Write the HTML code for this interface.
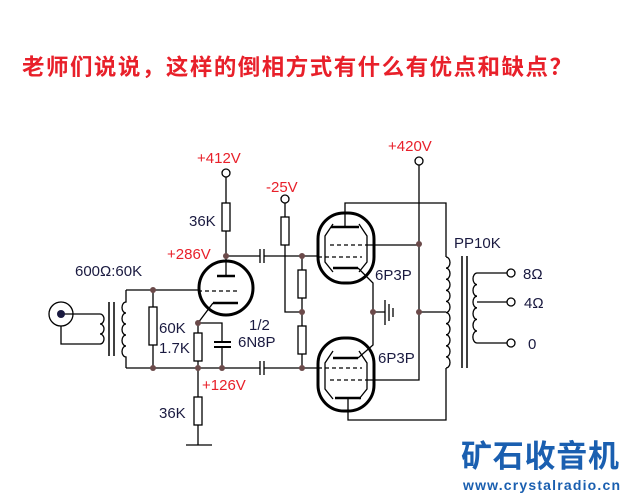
<!DOCTYPE html>
<html><head><meta charset="utf-8"><style>
html,body{margin:0;padding:0;background:#fff;width:629px;height:496px;overflow:hidden}
svg{display:block}
</style></head><body>
<svg width="629" height="496" viewBox="0 0 629 496" xmlns="http://www.w3.org/2000/svg">
<rect width="629" height="496" fill="#fff"/>
<text x="22" y="75" font-family="'Noto Sans CJK SC','WenQuanYi Zen Hei',sans-serif" font-size="22.5" font-weight="bold" fill="#e8202a" textLength="550">老师们说说，这样的倒相方式有什么有优点和缺点？</text>

<g stroke="#000" stroke-width="1.3" fill="none">
<circle cx="61" cy="314" r="12"/>
<path d="M61 314 H100 M61 326 V344 H100"/>
<path d="M100 314 a4 5 0 0 1 0 10 a4 5 0 0 1 0 10 a4 5 0 0 1 0 10"/>
<path d="M109 302 V356 M114 302 V356" stroke-width="1.5"/>
<path d="M126 290 V302 a4 5.5 0 0 0 0 11 a4 5.5 0 0 0 0 11 a4 5.5 0 0 0 0 11 a4 5.5 0 0 0 0 11 a4 5.5 0 0 0 0 11 V368"/>
<path d="M126 290 H198 M126 368 H260 M264 368 H318"/>
<path d="M153 290 V307 M153 345 V368"/><rect x="149" y="307" width="8" height="38"/>
<circle cx="226" cy="288" r="27" stroke-width="3"/>
<path d="M217 276 H235" stroke-width="2.5"/>
<path d="M198 291 H240" stroke-dasharray="4 3"/>
<path d="M213 303 H238" stroke-width="2.5"/>
<path d="M213 303 L198 323"/>
<path d="M226 276 V256 M226 256 V231 M226 203 V173"/>
<rect x="222" y="203" width="8" height="28"/>
<circle cx="226" cy="173" r="4" fill="#fff"/>
<path d="M198 323 V333 M198 361 V397 M198 425 V445"/><rect x="194" y="333" width="8" height="28"/>
<rect x="194" y="397" width="8" height="28"/>
<path d="M186 445 H212"/>
<path d="M198 323 H222 V342 M222 347 V368"/>
<path d="M214 342 H231 M214 347 H231" stroke-width="2"/>
<path d="M226 256 H260 M264 256 H318 M260 249 V263 M264 249 V263" />
<path d="M260 361 V375 M264 361 V375"/>
<path d="M302 256 V270 M302 298 V326 M302 354 V368"/>
<rect x="298" y="270" width="8" height="28"/><rect x="298" y="326" width="8" height="28"/>
<path d="M285 203 V217 M285 245 V312 H302"/>
<rect x="281" y="217" width="8" height="28"/>
<circle cx="285" cy="199" r="4" fill="#fff"/>
<rect x="318" y="213" width="56" height="70" rx="26" stroke-width="3"/>
<rect x="318" y="338" width="56" height="73" rx="26" stroke-width="3"/>
<path d="M333 224 L325 236 V262 L333 272 M359 224 L367 236 V262 L359 272"/>
<path d="M333 351 L325 363 V389 L333 399 M359 351 L367 363 V389 L359 399"/>
<path d="M331 227 H359 M333 268 H358 M333 358 H358 M335 398 H361" stroke-width="2.5"/>
<path d="M318 257 H362 M330 245 H365 M318 368 H362 M330 380 H365" stroke-dasharray="4 3"/>
<path d="M345 227 V203 H446 V257"/>
<path d="M365 245 H419 M365 380 H419 V161"/>
<path d="M358 268 L373 283 V345 L358 358"/>
<path d="M373 312 H385 M385 300 V325 M389 304 V321 M393 308 V317"/>
<path d="M348 398 V420 H446 V368"/>
<path d="M419 312 H446"/>
<circle cx="419" cy="161" r="4" fill="#fff"/>
<path d="M446 257 a4 5.55 0 0 1 0 11.1 a4 5.55 0 0 1 0 11.1 a4 5.55 0 0 1 0 11.1 a4 5.55 0 0 1 0 11.1 a4 5.55 0 0 1 0 11.1 a4 5.55 0 0 1 0 11.1 a4 5.55 0 0 1 0 11.1 a4 5.55 0 0 1 0 11.1 a4 5.55 0 0 1 0 11.1 a4 5.55 0 0 1 0 11.1"/>
<path d="M462 256 V368 M467 256 V368" stroke-width="1.5"/>
<path d="M477 273 a4 5.8 0 0 0 0 11.6 a4 5.8 0 0 0 0 11.6 a4 5.8 0 0 0 0 11.6 a4 5.8 0 0 0 0 11.6 a4 5.8 0 0 0 0 11.6 a4 5.8 0 0 0 0 12"/>
<path d="M477 273 H507 M477 302 H507 M477 343 H507"/>
<circle cx="511" cy="273" r="4" fill="#fff"/><circle cx="511" cy="302" r="4" fill="#fff"/><circle cx="511" cy="343" r="4" fill="#fff"/>
</g>
<g fill="#6b4a4a">
<circle cx="226" cy="256" r="3"/><circle cx="302" cy="256" r="3"/><circle cx="302" cy="312" r="3"/><circle cx="302" cy="368" r="3"/>
<circle cx="153" cy="290" r="3"/><circle cx="153" cy="368" r="3"/><circle cx="198" cy="323" r="3"/><circle cx="198" cy="368" r="3"/><circle cx="222" cy="368" r="3"/>
<circle cx="419" cy="244" r="3"/><circle cx="419" cy="312" r="3"/><circle cx="373" cy="312" r="3"/>
</g>
<circle cx="61" cy="314" r="4" fill="#1a1a40"/>
<g font-family="'Liberation Sans',sans-serif" font-size="15" fill="#e8202a">
<text x="197" y="163">+412V</text><text x="266" y="192">-25V</text><text x="388" y="151">+420V</text>
<text x="167" y="259">+286V</text><text x="202" y="390">+126V</text>
</g>
<g font-family="'Liberation Sans',sans-serif" font-size="15" fill="#1a1a40">
<text x="75" y="276">600Ω:60K</text><text x="189" y="226">36K</text>
<text x="159" y="333">60K</text><text x="159" y="353">1.7K</text>
<text x="249" y="330">1/2</text><text x="238" y="347">6N8P</text>
<text x="159" y="418">36K</text>
<text x="375" y="280">6P3P</text><text x="378" y="363">6P3P</text>
<text x="454" y="248">PP10K</text>
<text x="523" y="279">8Ω</text><text x="524" y="308">4Ω</text><text x="528" y="349">0</text>
</g>
<text x="461" y="467" font-family="'Noto Sans CJK SC','WenQuanYi Zen Hei',sans-serif" font-size="31" font-weight="bold" fill="#1a5fb0" textLength="158">矿石收音机</text>
<text x="463" y="490" font-family="'Liberation Sans',sans-serif" font-size="14" font-weight="bold" fill="#1a5fb0" textLength="157">www.crystalradio.cn</text>
</svg>
</body></html>
